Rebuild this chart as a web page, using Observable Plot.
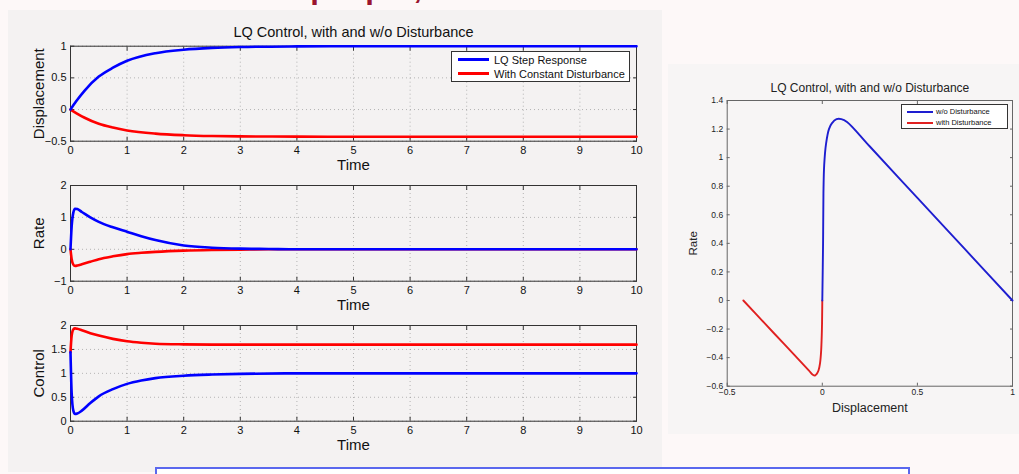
<!DOCTYPE html>
<html><head><meta charset="utf-8">
<script src="https://cdn.jsdelivr.net/npm/d3@7"></script>
<script src="https://cdn.jsdelivr.net/npm/@observablehq/plot@0.6"></script>
<style>
html,body{margin:0;padding:0;}
body{width:1019px;height:474px;position:relative;overflow:hidden;background:#fdf8f8;font-family:"Liberation Sans",Arial,Helvetica,sans-serif;}
.abs{position:absolute;}
#leftbg{left:8px;top:10px;width:654px;height:462px;background:#f4f2f2;}
#rightbg{left:668px;top:64px;width:351px;height:370px;background:#f7f5f5;}
#slideTitle{left:262px;top:-28px;font-size:31px;line-height:31px;font-weight:bold;color:#9b1530;white-space:nowrap;}
.legend{background:#fff;border:1px solid #333;box-sizing:border-box;}
.legend .row{position:absolute;display:flex;align-items:center;white-space:nowrap;}
.legend .sw{display:inline-block;flex:none;}
#box{left:155px;top:467px;width:751px;height:20px;border:2px solid #5a68ee;background:#fff;}
.plot{position:absolute;}
</style></head>
<body>
<div id="leftbg" class="abs"></div>
<div id="rightbg" class="abs"></div>
<div id="slideTitle" class="abs">Step Input,</div>
<div id="box" class="abs"></div>
<script>
// ---------- data ----------
const seriesNames = ["LQ Step Response", "With Constant Disturbance"];
const phaseNames = ["w/o Disturbance", "with Disturbance"];
const chartTitle = "LQ Control, with and w/o Disturbance";

const xTicks = [0,1,2,3,4,5,6,7,8,9,10];
const dispTicks = [-0.5,0,0.5,1];
const rateTicks = [-1,0,1,2];
const ctrlTicks = [0,0.5,1,1.5,2];

const dispT    = [0,0.1,0.25,0.5,0.75,1,1.5,2,2.5,3,4,5,6,8,10];
const dispLQ   = [0,0.13,0.3,0.52,0.66,0.77,0.89,0.945,0.973,0.987,0.997,1,1,1,1];
const dispDist = [0,-0.055,-0.13,-0.225,-0.285,-0.33,-0.38,-0.405,-0.418,-0.424,-0.428,-0.43,-0.43,-0.43,-0.43];

const rateT    = [0,0.02,0.05,0.08,0.12,0.2,0.35,0.5,0.75,1,1.25,1.5,2,2.5,3,3.5,4,5,6,8,10];
const rateLQ   = [0,0.7,1.15,1.27,1.26,1.17,1.0,0.86,0.69,0.55,0.41,0.29,0.12,0.05,0.02,0.01,0,0,0,0,0];
const rateDist = [0,-0.3,-0.48,-0.52,-0.51,-0.47,-0.39,-0.31,-0.22,-0.15,-0.11,-0.08,-0.04,-0.02,-0.01,0,0,0,0,0,0];

const ctrlT    = [0,0.02,0.05,0.08,0.12,0.2,0.35,0.5,0.75,1,1.25,1.5,2,2.5,3,4,5,6,8,10];
const ctrlLQ   = [1.44,0.6,0.22,0.15,0.16,0.22,0.38,0.52,0.67,0.78,0.85,0.9,0.95,0.975,0.99,1,1,1,1,1];
const ctrlDist = [1.44,1.78,1.92,1.94,1.93,1.9,1.84,1.79,1.72,1.67,1.64,1.62,1.605,1.6,1.6,1.6,1.6,1.6,1.6,1.6];

const phXTicks = [-0.5,0,0.5,1];
const phYTicks = [-0.6,-0.4,-0.2,0,0.2,0.4,0.6,0.8,1,1.2,1.4];
const phLQx = [0,0.004,0.006,0.01,0.02,0.035,0.05,0.075,0.1,0.13,0.25,0.5,0.75,1];
const phLQy = [0,0.4,0.75,0.95,1.1,1.2,1.24,1.27,1.27,1.25,1.078,0.718,0.359,0];
const phDx = [0,-0.002,-0.006,-0.012,-0.02,-0.03,-0.038,-0.05,-0.07,-0.2,-0.3,-0.415];
const phDy = [0,-0.2,-0.35,-0.44,-0.49,-0.515,-0.525,-0.52,-0.4915,-0.306,-0.164,0];

// ---------- helpers ----------
const fmt = d => d < 0 ? "\u2212" + Math.abs(d) : String(d);
const zip = (xs, ys) => xs.map((x, i) => ({x, y: ys[i]}));
const BLUE = "#0000ff", RED = "#ff0000";
const FONT = '"Liberation Sans", Arial, sans-serif';

function subplot({top, mt, mb, yDomain, yTicks, lq, dist, ylabel, title}) {
  const H = 150;
  const marks = [
    Plot.gridX(xTicks, {stroke:"#8a8a8a", strokeOpacity:0.6, strokeDasharray:"1,3"}),
    Plot.gridY(yTicks, {stroke:"#8a8a8a", strokeOpacity:0.6, strokeDasharray:"1,3"}),
    Plot.axisX(xTicks, {anchor:"bottom", tickSize:0, tickPadding:5, label:null, tickFormat:fmt, fontSize:11, fill:"#111"}),
    Plot.axisX(xTicks, {anchor:"bottom", tickSize:-4, tickFormat:()=>"", label:null, stroke:"#333"}),
    Plot.axisX(xTicks, {anchor:"top", tickSize:-4, tickFormat:()=>"", label:null, stroke:"#333"}),
    Plot.axisY(yTicks, {anchor:"left", tickSize:0, tickPadding:4, label:null, tickFormat:fmt, fontSize:11, fill:"#111"}),
    Plot.axisY(yTicks, {anchor:"left", tickSize:-4, tickFormat:()=>"", label:null, stroke:"#333"}),
    Plot.axisY(yTicks, {anchor:"right", tickSize:-4, tickFormat:()=>"", label:null, stroke:"#333"}),
    Plot.frame({stroke:"#333"}),
    Plot.line(dist, {x:"x", y:"y", stroke:RED, strokeWidth:2.6, curve:"monotone-x"}),
    Plot.line(lq, {x:"x", y:"y", stroke:BLUE, strokeWidth:2.6, curve:"monotone-x"}),
    Plot.text(["Time"], {frameAnchor:"bottom", dy:24, lineAnchor:"middle", textAnchor:"middle", fontSize:15, fill:"#111"}),
    Plot.text([ylabel], {frameAnchor:"left", dx:-31, rotate:-90, lineAnchor:"middle", textAnchor:"middle", fontSize:15, fill:"#111"})
  ];
  if (title) marks.push(Plot.text([title], {frameAnchor:"top", dy:-14, lineAnchor:"middle", textAnchor:"middle", fontSize:14.5, fill:"#111"}));
  const p = Plot.plot({
    width:660, height:H, marginLeft:70, marginRight:24, marginTop:mt, marginBottom:mb,
    x:{domain:[0,10]}, y:{domain:yDomain},
    style:{fontFamily:FONT, background:"transparent", overflow:"visible"},
    marks
  });
  p.classList.add("plot");
  p.style.left = "0px"; p.style.top = top + "px";
  document.body.appendChild(p);
}

subplot({top:20, mt:25.7, mb:29.3, yDomain:[-0.5,1], yTicks:dispTicks,
  lq:zip(dispT, dispLQ), dist:zip(dispT, dispDist), ylabel:"Displacement", title:chartTitle});
subplot({top:160, mt:25, mb:29.3, yDomain:[-1,2], yTicks:rateTicks,
  lq:zip(rateT, rateLQ), dist:zip(rateT, rateDist), ylabel:"Rate"});
subplot({top:300, mt:25, mb:29.3, yDomain:[0,2], yTicks:ctrlTicks,
  lq:zip(ctrlT, ctrlLQ), dist:zip(ctrlT, ctrlDist), ylabel:"Control"});

// phase plot
{
  const p = Plot.plot({
    width:351, height:371, marginLeft:58.7, marginRight:7, marginTop:36, marginBottom:49.3,
    x:{domain:[-0.5,1]}, y:{domain:[-0.6,1.4]},
    style:{fontFamily:FONT, background:"transparent", overflow:"visible"},
    marks:[
      Plot.axisX(phXTicks, {anchor:"bottom", tickSize:0, tickPadding:3, label:null, tickFormat:fmt, fontSize:8.5, fill:"#222"}),
      Plot.axisX(phXTicks, {anchor:"bottom", tickSize:-3, tickFormat:()=>"", label:null, stroke:"#666"}),
      Plot.axisX(phXTicks, {anchor:"top", tickSize:-3, tickFormat:()=>"", label:null, stroke:"#666"}),
      Plot.axisY(phYTicks, {anchor:"left", tickSize:0, tickPadding:4, label:null, tickFormat:fmt, fontSize:8.5, fill:"#222"}),
      Plot.axisY(phYTicks, {anchor:"left", tickSize:-3, tickFormat:()=>"", label:null, stroke:"#666"}),
      Plot.axisY(phYTicks, {anchor:"right", tickSize:-3, tickFormat:()=>"", label:null, stroke:"#666"}),
      Plot.frame({stroke:"#666"}),
      Plot.line(zip(phDx, phDy), {x:"x", y:"y", stroke:"#e02020", strokeWidth:1.9, curve:"catmull-rom"}),
      Plot.line(zip(phLQx, phLQy), {x:"x", y:"y", stroke:"#1e1ed0", strokeWidth:1.9, curve:"catmull-rom"}),
      Plot.text([chartTitle], {frameAnchor:"top", dy:-12, lineAnchor:"middle", textAnchor:"middle", fontSize:12, fill:"#222"}),
      Plot.text(["Displacement"], {frameAnchor:"bottom", dy:21.5, lineAnchor:"middle", textAnchor:"middle", fontSize:12.5, fill:"#222"}),
      Plot.text(["Rate"], {frameAnchor:"left", dx:-34, rotate:-90, lineAnchor:"middle", textAnchor:"middle", fontSize:11.5, fill:"#222"})
    ]
  });
  p.classList.add("plot");
  p.style.left = "668px"; p.style.top = "64px";
  document.body.appendChild(p);
}

// legends
function legend(left, top, w, h, names, colors, opts) {
  const d = document.createElement("div");
  d.className = "abs legend";
  Object.assign(d.style, {left:left+"px", top:top+"px", width:w+"px", height:h+"px", fontSize:opts.fs+"px", color:"#111"});
  names.forEach((n, i) => {
    const r = document.createElement("div");
    r.className = "row";
    Object.assign(r.style, {left:opts.x0+"px", top:(opts.y0 + i*opts.dy - opts.fs*0.6)+"px", height:(opts.fs*1.2)+"px"});
    const sw = document.createElement("span");
    sw.className = "sw";
    Object.assign(sw.style, {width:opts.sw+"px", height:opts.lw+"px", background:colors[i], marginRight:opts.gap+"px"});
    const t = document.createElement("span");
    t.textContent = n;
    r.appendChild(sw); r.appendChild(t);
    d.appendChild(r);
  });
  document.body.appendChild(d);
}
legend(451, 51, 179, 31, seriesNames, [BLUE, RED], {fs:11, x0:6, y0:7.8, dy:14, sw:31, lw:3, gap:5});
legend(901, 104, 107, 25, phaseNames, ["#1e1ed0", "#e02020"], {fs:7.5, x0:5, y0:6.5, dy:11, sw:26, lw:2, gap:3});
</script>
</body></html>
